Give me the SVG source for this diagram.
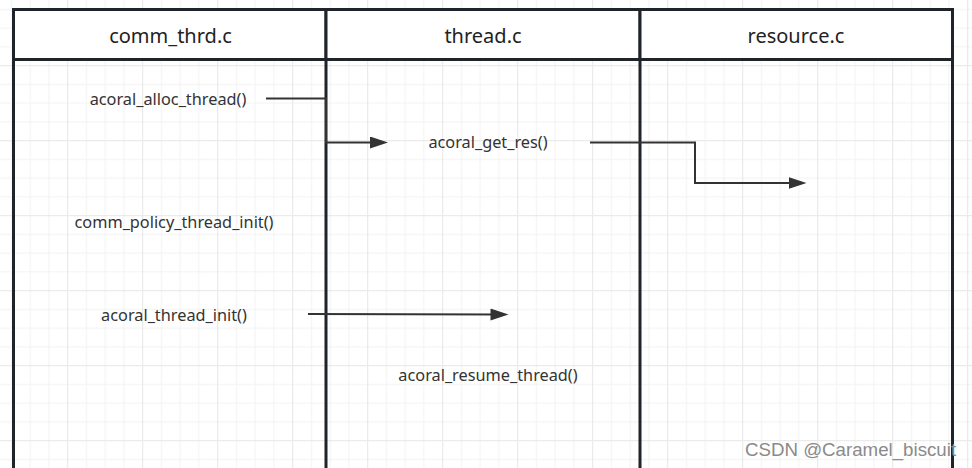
<svg xmlns="http://www.w3.org/2000/svg" width="972" height="468" viewBox="0 0 972 468">
  <style>
    .lane { fill: none; stroke: #1f242b; stroke-width: 3; }
    .head { fill: #ffffff; stroke: #1f242b; stroke-width: 3; }
    .htxt { font-family: "Noto Sans", "Open Sans", sans-serif; font-size: 20px; fill: #222222; text-anchor: middle; }
    .lbl { font-family: "Noto Sans", "Open Sans", sans-serif; font-size: 16.3px; fill: #333333; text-anchor: middle; }
    .conn { fill: none; stroke: #333333; stroke-width: 2; }
    .wm { font-family: "Liberation Sans", Arial, sans-serif; font-size: 18.7px; fill: #8a8a8a; }
  </style>
  <defs>
    <pattern id="grid" patternUnits="userSpaceOnUse" x="67.2" y="65.2" width="75" height="75">
      <path d="M18.75,0 V75 M37.5,0 V75 M56.25,0 V75 M0,18.75 H75 M0,37.5 H75 M0,56.25 H75" transform="translate(0.5,0.5)" stroke="#f2f2f2" stroke-width="1" fill="none"/>
      <path d="M0,0 V75 M0,0 H75" transform="translate(0.5,0.5)" stroke="#e6e6e6" stroke-width="1" fill="none"/>
    </pattern>
    <marker id="arr" markerUnits="userSpaceOnUse" markerWidth="19" markerHeight="13" refX="10" refY="6" orient="auto">
      <path d="M0,0 L18,6 L0,12 Z" fill="#333333"/>
    </marker>
  </defs>
  <rect width="972" height="468" fill="#ffffff"/>
  <rect width="972" height="468" fill="url(#grid)"/>

  <g id="lane-comm_thrd">
    <rect class="head" x="13.5" y="9.5" width="312.5" height="50"/>
    <line class="lane" x1="13.5" y1="59.5" x2="13.5" y2="470"/>
    <text class="htxt" x="170.5" y="42.5">comm_thrd.c</text>
  </g>
  <g id="lane-thread">
    <rect class="head" x="326" y="9.5" width="314" height="50"/>
    <line class="lane" x1="326" y1="59.5" x2="326" y2="470"/>
    <text class="htxt" x="483" y="42.5">thread.c</text>
  </g>
  <g id="lane-resource">
    <rect class="head" x="640" y="9.5" width="312.5" height="50"/>
    <line class="lane" x1="640" y1="59.5" x2="640" y2="470"/>
    <line class="lane" x1="952.5" y1="59.5" x2="952.5" y2="470"/>
    <text class="htxt" x="796" y="42.5">resource.c</text>
  </g>

  <g id="node-alloc"><text class="lbl" x="168" y="104.5">acoral_alloc_thread()</text></g>
  <g id="node-getres"><text class="lbl" x="488" y="147.5">acoral_get_res()</text></g>
  <g id="node-policy"><text class="lbl" x="174" y="227.5">comm_policy_thread_init()</text></g>
  <g id="node-threadinit"><text class="lbl" x="174" y="320.5">acoral_thread_init()</text></g>
  <g id="node-resume"><text class="lbl" x="488" y="380.5">acoral_resume_thread()</text></g>

  <g id="connectors">
    <path class="conn" d="M266,98.5 H326 V142.5 H380" marker-end="url(#arr)"/>
    <path class="conn" d="M590,142.5 H695 V183 H798.5" marker-end="url(#arr)"/>
    <path class="conn" d="M308,314 L500.5,314.5" marker-end="url(#arr)"/>
  </g>

  <text class="wm" x="745" y="456">CSDN @Caramel_biscuit</text>
</svg>
